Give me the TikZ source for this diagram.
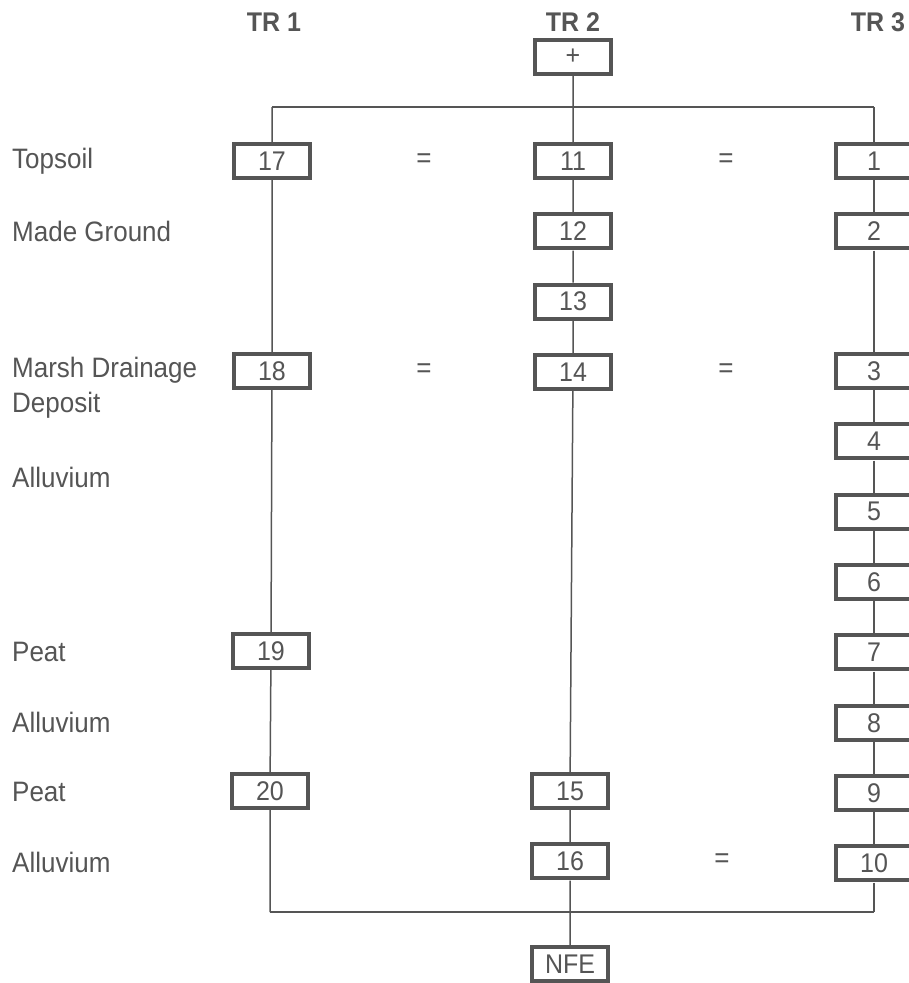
\documentclass[tikz,border=0pt]{standalone}
\usepackage{fontspec}
\setmainfont{Liberation Sans}
\usepackage{tikz}
\usetikzlibrary{positioning}
\definecolor{inkgray}{HTML}{555555}
\tikzset{
  unitbox/.style={draw=inkgray, line width=4pt, minimum width=76pt, minimum height=31.5pt, inner sep=0pt, text=inkgray, yscale=1.08, transform shape, font=\fontsize{25}{30}\selectfont},
  trlabel/.style={text=inkgray, yscale=1.08, transform shape, font=\fontsize{25}{30}\selectfont\bfseries},
  layerlabel/.style={anchor=west, align=left, inner sep=0pt, text=inkgray, yscale=1.08, transform shape, font=\fontsize{26}{32.5}\selectfont},
  eqsign/.style={text=inkgray, yscale=1.08, transform shape, font=\fontsize{26}{30}\selectfont},
  link/.style={draw=inkgray, line width=1.5pt},
}

\begin{document}
\begin{tikzpicture}[x=1pt, y=-1pt, node distance=32pt]
  \useasboundingbox (0,0) rectangle (909,983);

  % Trench headings
  \node[trlabel] (tr1) at (274,22) {TR 1};
  \node[trlabel] (tr2) at (573,22) {TR 2};
  \node[trlabel] (tr3) at (878,22) {TR 3};

  % Layer names
  \node[layerlabel] (topsoil) at (12,161) {Topsoil};
  \node[layerlabel] (made) at (12,231) {Made Ground};
  \node[layerlabel] (marsh) at (12,388) {Marsh Drainage\\Deposit};
  \node[layerlabel] (allu1) at (12,477) {Alluvium};
  \node[layerlabel] (peat1) at (12,652) {Peat};
  \node[layerlabel] (allu2) at (12,722) {Alluvium};
  \node[layerlabel] (peat2) at (12,792) {Peat};
  \node[layerlabel] (allu3) at (12,862) {Alluvium};

  % TR 1
  \node[unitbox] (c17) at (272,161) {17};
  \node[unitbox] (c18) at (272,371) {18};
  \node[unitbox] (c19) at (271,651) {19};
  \node[unitbox] (c20) at (270,791) {20};

  % TR 2
  \node[unitbox] (top) at (573,57) {+};
  \node[unitbox] (c11) at (573,161) {11};
  \node[unitbox, below=of c11] (c12) {12};
  \node[unitbox, below=of c12] (c13) {13};
  \node[unitbox, below=of c13] (c14) {14};
  \node[unitbox] (c15) at (570,791) {15};
  \node[unitbox, below=of c15] (c16) {16};
  \node[unitbox] (nfe) at (570,964) {NFE};

  % TR 3
  \node[unitbox] (c1) at (874,161) {1};
  \node[unitbox, below=of c1] (c2) {2};
  \node[unitbox] (c3) at (874,371) {3};
  \node[unitbox, below=of c3] (c4) {4};
  \node[unitbox, below=of c4] (c5) {5};
  \node[unitbox, below=of c5] (c6) {6};
  \node[unitbox, below=of c6] (c7) {7};
  \node[unitbox, below=of c7] (c8) {8};
  \node[unitbox, below=of c8] (c9) {9};
  \node[unitbox, below=of c9] (c10) {10};

  % Equivalences
  \node[eqsign] (eq1) at (424,161) {=};
  \node[eqsign] (eq2) at (726,161) {=};
  \node[eqsign] (eq3) at (424,371) {=};
  \node[eqsign] (eq4) at (726,371) {=};
  \node[eqsign] (eq5) at (722,861) {=};

  % Frame corners
  \coordinate (tl) at (272,107);
  \coordinate (tr) at (874,107);
  \coordinate (bl) at (270,912);
  \coordinate (br) at (874,912);

  \draw[link] (tl) -- (tr);
  \draw[link] (bl) -- (br);
  \draw[link] (tl) -- (c17) -- (c18) -- (c19) -- (c20) -- (bl);
  \draw[link] (top) -- (c11) -- (c12) -- (c13) -- (c14) -- (c15) -- (c16) -- (nfe);
  \draw[link] (tr) -- (c1) -- (c2) -- (c3) -- (c4) -- (c5) -- (c6) -- (c7) -- (c8) -- (c9) -- (c10) -- (br);
\end{tikzpicture}
\end{document}
